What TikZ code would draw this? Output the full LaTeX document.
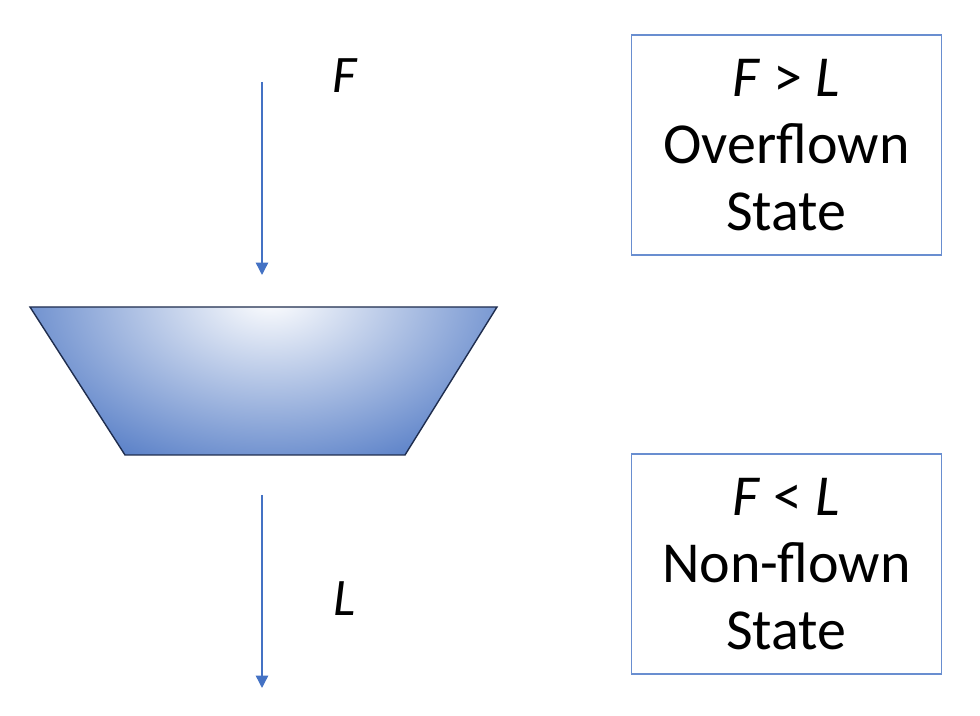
\documentclass[tikz,border=0pt]{standalone}
\usepackage{fontspec}
\setmainfont{Carlito}
\usetikzlibrary{arrows.meta, positioning}
\definecolor{lineblue}{HTML}{4472C4}
\definecolor{tankblue}{HTML}{4F78C4}
\definecolor{tankedge}{HTML}{1F2D4E}
\tikzset{
    flow/.style={
        draw=lineblue,
        thick,
        -{Triangle[width=7pt,length=7pt]}
    },
    statebox/.style={
        rectangle,
        draw=lineblue!80,
        thick,
        minimum width=6.2cm,
        minimum height=4.4cm,
        align=center,
        font=\fontsize{33}{38}\selectfont
    },
    varlabel/.style={
        font=\fontsize{30}{32}\selectfont\itshape
    }
}
\begin{document}
\begin{tikzpicture}
\useasboundingbox (0,0) rectangle (19.6,14.32);

% Tank
\coordinate (tl) at (0.6,8.18);
\coordinate (tr) at (9.94,8.18);
\coordinate (br) at (8.1,5.22);
\coordinate (bl) at (2.5,5.22);
\begin{scope}
\clip (tl) -- (tr) -- (br) -- (bl) -- cycle;
\shade[inner color=white, outer color=tankblue] (5.4,8.4) ellipse (6cm and 4cm);
\end{scope}
\draw[tankedge, thick] (tl) -- (tr) -- (br) -- (bl) -- cycle;

% Flows
\coordinate (fin0) at (5.24,12.68);
\coordinate (fin1) at (5.24,8.82);
\coordinate (fout0) at (5.24,4.42);
\coordinate (fout1) at (5.24,0.56);
\draw[flow] (fin0) -- (fin1);
\draw[flow] (fout0) -- (fout1);
\node[varlabel] (f) at (6.9,12.8) {F};
\node[varlabel] (l) at (6.9,2.35) {L};

% States
\node[statebox] (over) at (15.73,11.42) {\textit{F} > \textit{L}\\Overflown\\State};
\node[statebox] (non) at (15.73,3.04) {\textit{F} < \textit{L}\\Non-flown\\State};

\end{tikzpicture}
\end{document}
